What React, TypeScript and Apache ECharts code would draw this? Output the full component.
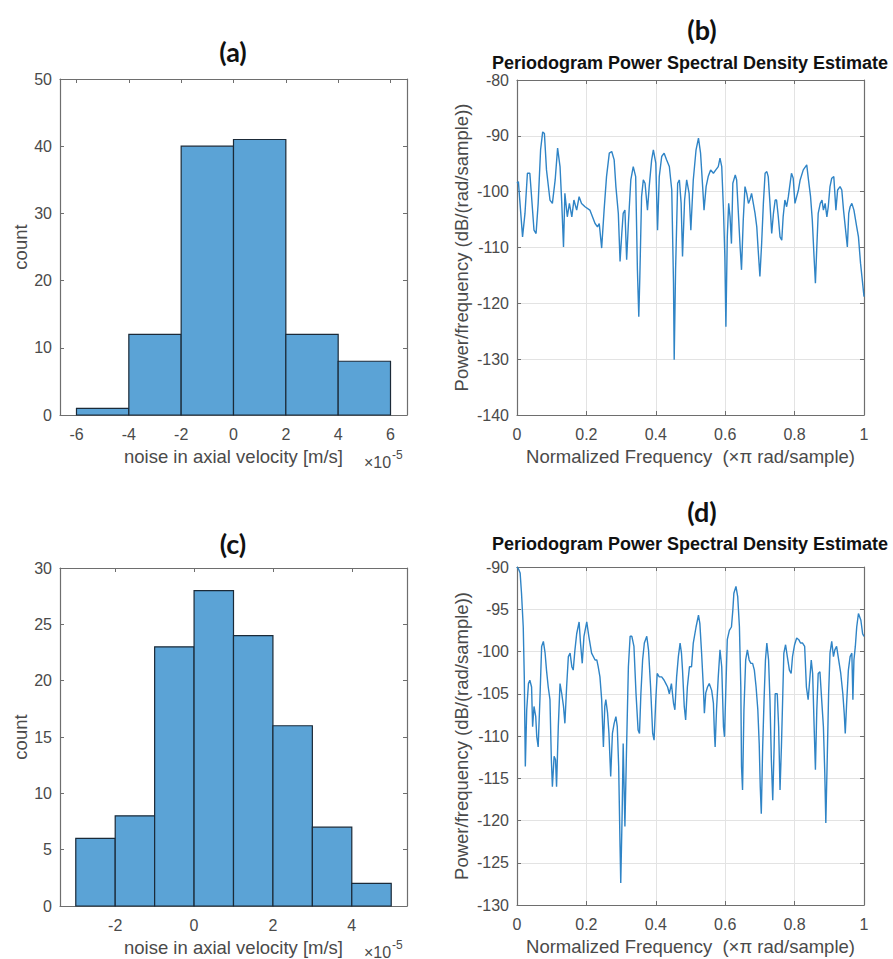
import React, { useEffect, useRef } from "react";
import * as echarts from "echarts";

// ---- Histogram (a) ----
const histAEdges = [-6, -4, -2, 0, 2, 4, 6];
const histACounts = [1, 12, 40, 41, 12, 8];
const histATicks = [-6, -4, -2, 0, 2, 4, 6];

// ---- Histogram (c) ----
const histCEdges = [-3, -2, -1, 0, 1, 2, 3, 4, 5];
const histCCounts = [6, 8, 23, 28, 24, 16, 7, 2];
const histCTicks = [-2, 0, 2, 4];

// ---- Periodogram (b) ----
const psdBFreq = [
  0.0, 0.004, 0.016, 0.023, 0.03, 0.037, 0.042, 0.049, 0.055, 0.061, 0.068, 0.074, 0.079, 0.085, 0.095,
  0.102, 0.11, 0.117, 0.124, 0.129, 0.134, 0.138, 0.145, 0.151, 0.158, 0.164, 0.172, 0.179, 0.186, 0.196,
  0.21, 0.225, 0.232, 0.237, 0.244, 0.251, 0.258, 0.266, 0.273, 0.28, 0.285, 0.292, 0.297, 0.302, 0.306,
  0.311, 0.316, 0.321, 0.328, 0.335, 0.342, 0.347, 0.351, 0.354, 0.359, 0.364, 0.369, 0.376, 0.381, 0.388,
  0.393, 0.4, 0.405, 0.41, 0.417, 0.424, 0.431, 0.439, 0.446, 0.451, 0.453, 0.457, 0.463, 0.468, 0.473,
  0.477, 0.483, 0.489, 0.496, 0.501, 0.508, 0.516, 0.523, 0.529, 0.535, 0.539, 0.545, 0.551, 0.558, 0.566,
  0.573, 0.58, 0.585, 0.59, 0.595, 0.599, 0.602, 0.606, 0.61, 0.614, 0.618, 0.622, 0.629, 0.633, 0.638,
  0.643, 0.647, 0.652, 0.657, 0.662, 0.667, 0.671, 0.676, 0.681, 0.686, 0.691, 0.695, 0.7, 0.705, 0.71,
  0.715, 0.72, 0.724, 0.729, 0.734, 0.739, 0.744, 0.748, 0.753, 0.758, 0.763, 0.767, 0.772, 0.777, 0.782,
  0.787, 0.791, 0.796, 0.801, 0.806, 0.811, 0.816, 0.825, 0.835, 0.84, 0.846, 0.851, 0.856, 0.86, 0.864,
  0.868, 0.874, 0.879, 0.883, 0.888, 0.893, 0.897, 0.902, 0.907, 0.913, 0.919, 0.924, 0.931, 0.936, 0.941,
  0.946, 0.952, 0.956, 0.96, 0.965, 0.971, 0.979, 0.984, 0.99, 0.995, 1.0,
];
const psdBPower = [
  -98.5, -98.2, -108.1, -103.9, -96.7, -96.7, -100.9, -106.9, -107.5, -102.1, -92.5, -89.3, -89.6, -96.1, -101.5,
  -102.1, -97.9, -92.2, -95.5, -102.1, -109.9, -100.3, -104.5, -102.1, -104.5, -101.5, -103.3, -100.9, -102.1, -102.7,
  -103.3, -105.7, -106.3, -105.7, -110.1, -103.3, -97.3, -93.1, -92.8, -94.3, -99.1, -103.9, -112.5, -107.5, -103.9,
  -103.3, -112.2, -105.7, -97.9, -95.5, -97.3, -114.0, -122.4, -115.2, -100.9, -97.9, -98.5, -103.3, -99.1, -94.3,
  -92.5, -94.9, -106.9, -97.3, -93.7, -93.1, -94.3, -95.5, -99.7, -116.4, -130.1, -114.0, -98.5, -97.9, -102.1,
  -111.6, -101.5, -97.9, -100.3, -106.9, -97.9, -92.5, -90.4, -93.1, -99.1, -103.3, -99.1, -97.3, -96.1, -96.7,
  -96.1, -95.5, -94.0, -95.5, -103.3, -111.6, -124.2, -108.1, -102.1, -104.5, -109.3, -98.5, -97.0, -97.9, -103.9,
  -109.9, -114.0, -105.1, -99.1, -100.3, -102.1, -101.5, -100.3, -102.1, -103.9, -106.3, -110.4, -115.2, -109.3, -102.1,
  -96.7, -96.4, -97.3, -102.1, -107.5, -103.9, -101.5, -101.5, -104.5, -108.1, -108.7, -104.5, -101.5, -102.7, -100.9,
  -98.5, -96.7, -97.6, -102.1, -100.9, -99.7, -97.9, -96.1, -95.2, -97.9, -100.9, -105.1, -111.6, -116.4, -109.9,
  -103.9, -102.1, -101.5, -103.3, -102.1, -104.5, -102.7, -99.1, -97.6, -97.3, -103.3, -99.7, -99.1, -99.7, -103.3,
  -106.3, -109.9, -103.9, -102.7, -102.1, -103.3, -106.3, -108.1, -112.8, -115.8, -118.8,
];

// ---- Periodogram (d) ----
const psdDFreq = [
  0.0, 0.004, 0.009, 0.013, 0.018, 0.021, 0.024, 0.028, 0.033, 0.037, 0.042, 0.045, 0.049, 0.054, 0.057,
  0.061, 0.066, 0.071, 0.076, 0.081, 0.085, 0.09, 0.095, 0.099, 0.102, 0.107, 0.111, 0.114, 0.119, 0.124,
  0.129, 0.134, 0.138, 0.143, 0.148, 0.153, 0.158, 0.162, 0.167, 0.172, 0.179, 0.183, 0.188, 0.193, 0.201,
  0.207, 0.215, 0.225, 0.23, 0.234, 0.239, 0.244, 0.249, 0.253, 0.256, 0.261, 0.265, 0.27, 0.275, 0.28,
  0.285, 0.289, 0.293, 0.297, 0.299, 0.303, 0.306, 0.311, 0.316, 0.321, 0.326, 0.331, 0.337, 0.343, 0.349,
  0.353, 0.357, 0.362, 0.367, 0.374, 0.379, 0.385, 0.391, 0.395, 0.4, 0.404, 0.41, 0.417, 0.424, 0.429,
  0.434, 0.439, 0.445, 0.451, 0.455, 0.46, 0.465, 0.47, 0.474, 0.477, 0.482, 0.486, 0.491, 0.497, 0.503,
  0.508, 0.516, 0.523, 0.527, 0.532, 0.537, 0.54, 0.544, 0.549, 0.554, 0.561, 0.566, 0.569, 0.571, 0.575,
  0.58, 0.585, 0.59, 0.595, 0.598, 0.602, 0.606, 0.612, 0.618, 0.622, 0.625, 0.631, 0.636, 0.641, 0.645,
  0.647, 0.65, 0.654, 0.659, 0.664, 0.669, 0.674, 0.679, 0.684, 0.689, 0.694, 0.698, 0.701, 0.704, 0.708,
  0.712, 0.716, 0.72, 0.725, 0.729, 0.733, 0.737, 0.741, 0.744, 0.75, 0.754, 0.758, 0.762, 0.766, 0.769,
  0.774, 0.779, 0.785, 0.79, 0.794, 0.8, 0.806, 0.812, 0.817, 0.823, 0.829, 0.834, 0.839, 0.842, 0.848,
  0.852, 0.856, 0.86, 0.864, 0.868, 0.873, 0.878, 0.883, 0.887, 0.89, 0.894, 0.898, 0.902, 0.907, 0.912,
  0.916, 0.921, 0.927, 0.933, 0.939, 0.943, 0.946, 0.95, 0.955, 0.96, 0.965, 0.968, 0.971, 0.975, 0.979,
  0.984, 0.991, 0.996, 1.0,
];
const psdDPower = [
  -90.0, -90.2, -90.7, -93.1, -97.1, -103.0, -113.6, -106.9, -103.8, -103.4, -104.2, -108.9, -106.5, -107.7, -110.1,
  -111.3, -105.7, -99.4, -98.8, -100.2, -102.2, -104.2, -105.7, -112.8, -116.0, -112.4, -112.8, -116.0, -108.9, -103.8,
  -105.0, -106.5, -108.5, -104.2, -100.6, -100.2, -101.8, -102.2, -99.8, -97.9, -96.5, -99.0, -101.4, -98.2, -96.5,
  -98.2, -100.2, -101.0, -101.0, -101.8, -103.0, -105.7, -111.3, -106.5, -105.7, -107.3, -109.7, -114.8, -109.7, -108.5,
  -107.7, -108.9, -113.6, -123.1, -127.4, -119.2, -110.9, -120.7, -110.9, -101.8, -98.2, -98.2, -99.4, -105.0, -109.3,
  -109.7, -105.0, -101.0, -99.0, -98.2, -99.8, -104.2, -109.7, -110.5, -105.7, -102.6, -103.0, -103.0, -103.4, -103.8,
  -104.2, -105.0, -103.8, -106.1, -106.9, -103.0, -100.6, -99.0, -100.2, -102.2, -106.5, -108.1, -104.2, -101.8, -101.8,
  -99.0, -97.1, -95.7, -96.7, -100.2, -104.2, -107.3, -104.9, -104.2, -103.8, -104.6, -106.1, -109.7, -111.3, -106.9,
  -103.0, -99.8, -101.8, -108.9, -110.1, -104.2, -98.6, -97.5, -97.1, -95.1, -93.1, -92.3, -93.5, -97.1, -104.2,
  -113.6, -116.4, -106.9, -101.0, -99.8, -101.0, -101.4, -101.4, -102.2, -104.2, -106.9, -110.9, -116.0, -119.2, -111.3,
  -105.7, -101.0, -99.0, -101.0, -105.7, -112.8, -117.6, -111.3, -105.0, -105.0, -108.9, -116.4, -111.3, -105.0, -100.2,
  -99.2, -100.6, -102.2, -102.6, -100.6, -99.2, -98.4, -98.6, -99.0, -99.0, -99.4, -104.2, -105.7, -104.2, -101.0,
  -102.6, -108.5, -114.0, -106.9, -102.6, -102.4, -105.7, -108.9, -114.4, -120.3, -112.8, -105.0, -100.2, -98.8, -100.6,
  -99.8, -99.4, -101.0, -102.6, -105.0, -107.3, -109.7, -106.1, -102.2, -100.6, -100.2, -105.7, -101.0, -99.4, -97.1,
  -95.5, -96.3, -97.9, -98.2,
];

const psdXTicks = [0, 0.2, 0.4, 0.6, 0.8, 1];

const TICK_COLOR = "#4a4a4a";
const BOX_COLOR = "#6e6e6e";
const LABEL_FONT = "Liberation Sans, Arial, sans-serif";
const TICK_SIZE = 16;
const NAME_SIZE = 18.5;

function histData(edges: number[], counts: number[]) {
  return counts.map((c, i) => [edges[i], edges[i + 1], c]);
}

function renderHistBar(params: any, api: any) {
  const p0 = api.coord([api.value(0), api.value(2)]);
  const p1 = api.coord([api.value(1), 0]);
  return {
    type: "rect",
    shape: { x: p0[0], y: p0[1], width: p1[0] - p0[0], height: p1[1] - p0[1] },
    style: { fill: "#5ba3d6", stroke: "#1b2a38", lineWidth: 1.2 },
  };
}

function xAxes(gridIndex: number, min: number, max: number, ticks: number[], name: string, grid: boolean) {
  const common = {
    type: "value",
    gridIndex,
    min,
    max,
    axisLine: { show: true, onZero: false, lineStyle: { color: BOX_COLOR, width: 1.2 } },
    axisTick: { show: true, inside: true, length: 4, customValues: ticks, lineStyle: { color: BOX_COLOR } },
  };
  return [
    {
      ...common,
      position: "bottom",
      name,
      nameLocation: "middle",
      nameGap: 32,
      nameTextStyle: { fontFamily: LABEL_FONT, fontSize: NAME_SIZE, color: TICK_COLOR },
      axisLabel: {
        show: true,
        customValues: ticks,
        margin: 11,
        fontFamily: LABEL_FONT,
        fontSize: TICK_SIZE,
        color: TICK_COLOR,
        formatter: (v: number) => String(v),
      },
      splitLine: { show: grid, lineStyle: { color: "#e3e3e3", width: 1 } },
    },
    {
      ...common,
      position: "top",
      axisLabel: { show: false },
      splitLine: { show: false },
    },
  ];
}

function yAxes(gridIndex: number, min: number, max: number, interval: number, name: string, nameGap: number, grid: boolean) {
  const common = {
    type: "value",
    gridIndex,
    min,
    max,
    interval,
    axisLine: { show: true, onZero: false, lineStyle: { color: BOX_COLOR, width: 1.2 } },
    axisTick: { show: true, inside: true, length: 4, lineStyle: { color: BOX_COLOR } },
  };
  return [
    {
      ...common,
      position: "left",
      name,
      nameLocation: "middle",
      nameGap,
      nameRotate: 90,
      nameTextStyle: { fontFamily: LABEL_FONT, fontSize: NAME_SIZE, color: TICK_COLOR },
      axisLabel: { show: true, margin: 8, fontFamily: LABEL_FONT, fontSize: TICK_SIZE, color: TICK_COLOR },
      splitLine: { show: grid, lineStyle: { color: "#e3e3e3", width: 1 } },
    },
    {
      ...common,
      position: "right",
      axisLabel: { show: false },
      splitLine: { show: false },
    },
  ];
}

export default function App() {
  const ref = useRef<HTMLDivElement>(null);

  useEffect(() => {
    document.body.style.margin = "0";
    if (!ref.current) return;
    const chart = echarts.init(ref.current, null, { renderer: "svg" });

    const xAxis = [
      ...xAxes(0, -6.63, 6.63, histATicks, "noise in axial velocity [m/s]", false),
      ...xAxes(1, 0, 1, psdXTicks, "Normalized Frequency  (\u00d7\u03c0 rad/sample)", true),
      ...xAxes(2, -3.4, 5.4, histCTicks, "noise in axial velocity [m/s]", false),
      ...xAxes(3, 0, 1, psdXTicks, "Normalized Frequency  (\u00d7\u03c0 rad/sample)", true),
    ];
    const yAxis = [
      ...yAxes(0, 0, 50, 10, "count", 29, false),
      ...yAxes(1, -140, -80, 10, "Power/frequency (dB/(rad/sample))", 46, true),
      ...yAxes(2, 0, 30, 5, "count", 29, false),
      ...yAxes(3, -130, -90, 5, "Power/frequency (dB/(rad/sample))", 46, true),
    ];

    const titleStyle = { fontFamily: "Lato, Open Sans, sans-serif", fontWeight: "bold", fontSize: 27, fill: "#111" };
    const psdTitleStyle = { fontFamily: LABEL_FONT, fontWeight: "bold", fontSize: 18, fill: "#111" };
    const expBase = { fontFamily: LABEL_FONT, fontSize: 16, fill: TICK_COLOR, textVerticalAlign: "middle" };
    const expSup = { fontFamily: LABEL_FONT, fontSize: 12, fill: TICK_COLOR, textVerticalAlign: "middle" };

    chart.setOption({
      animation: false,
      backgroundColor: "#ffffff",
      grid: [
        { left: 60, top: 79, width: 347, height: 336, show: false },
        { left: 517, top: 80, width: 347, height: 335, show: false },
        { left: 60, top: 568, width: 347, height: 338, show: false },
        { left: 517, top: 567, width: 347, height: 338, show: false },
      ],
      xAxis,
      yAxis,
      graphic: [
        { type: "text", x: 233, y: 51, style: { ...titleStyle, text: "(a)", textAlign: "center", textVerticalAlign: "middle" } },
        { type: "text", x: 702, y: 29, style: { ...titleStyle, text: "(b)", textAlign: "center", textVerticalAlign: "middle" } },
        { type: "text", x: 233, y: 543, style: { ...titleStyle, text: "(c)", textAlign: "center", textVerticalAlign: "middle" } },
        { type: "text", x: 702, y: 511, style: { ...titleStyle, text: "(d)", textAlign: "center", textVerticalAlign: "middle" } },
        { type: "text", x: 690, y: 63, style: { ...psdTitleStyle, text: "Periodogram Power Spectral Density Estimate", textAlign: "center", textVerticalAlign: "middle" } },
        { type: "text", x: 690, y: 544, style: { ...psdTitleStyle, text: "Periodogram Power Spectral Density Estimate", textAlign: "center", textVerticalAlign: "middle" } },
        { type: "text", x: 364, y: 462, style: { ...expBase, text: "\u00d710" } },
        { type: "text", x: 392, y: 455, style: { ...expSup, text: "-5" } },
        { type: "text", x: 364, y: 952, style: { ...expBase, text: "\u00d710" } },
        { type: "text", x: 392, y: 945, style: { ...expSup, text: "-5" } },
      ],
      series: [
        {
          type: "custom",
          xAxisIndex: 0,
          yAxisIndex: 0,
          renderItem: renderHistBar,
          data: histData(histAEdges, histACounts),
          encode: { x: [0, 1], y: 2 },
        },
        {
          type: "line",
          xAxisIndex: 2,
          yAxisIndex: 2,
          showSymbol: false,
          lineStyle: { color: "#2f84c6", width: 1.4 },
          data: psdBFreq.map((f, i) => [f, psdBPower[i]]),
        },
        {
          type: "custom",
          xAxisIndex: 4,
          yAxisIndex: 4,
          renderItem: renderHistBar,
          data: histData(histCEdges, histCCounts),
          encode: { x: [0, 1], y: 2 },
        },
        {
          type: "line",
          xAxisIndex: 6,
          yAxisIndex: 6,
          showSymbol: false,
          lineStyle: { color: "#2f84c6", width: 1.4 },
          data: psdDFreq.map((f, i) => [f, psdDPower[i]]),
        },
      ],
    });

    return () => chart.dispose();
  }, []);

  return <div ref={ref} style={{ width: 893, height: 959 }} />;
}
